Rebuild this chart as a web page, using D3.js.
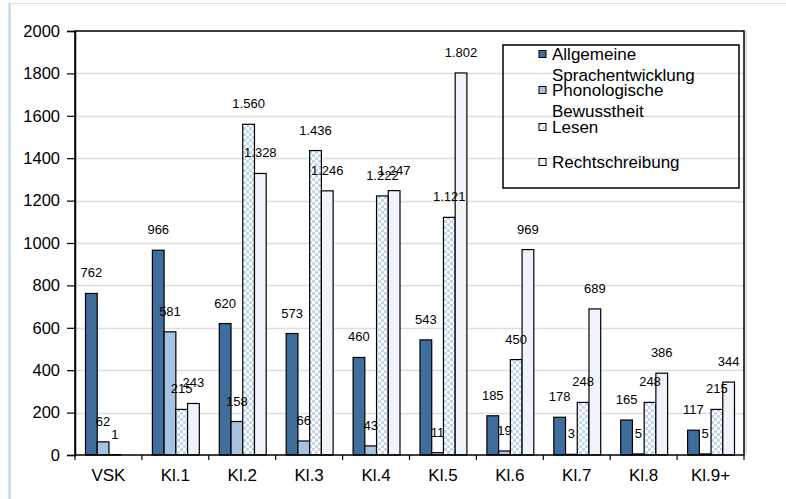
<!DOCTYPE html>
<html>
<head>
<meta charset="utf-8">
<script src="https://cdn.jsdelivr.net/npm/d3@7"></script>
<style>
  body { margin: 0; background: #fff; }
  svg { display: block; font-family: "Liberation Sans", Arial, sans-serif; }
</style>
</head>
<body>
<svg id="chart" width="786" height="499"></svg>
<script>
// data
var categories = ["VSK", "Kl.1", "Kl.2", "Kl.3", "Kl.4", "Kl.5", "Kl.6", "Kl.7", "Kl.8", "Kl.9+"];
var allgemeine = [762, 966, 620, 573, 460, 543, 185, 178, 165, 117];
var phonologische = [62, 581, 158, 66, 43, 11, 19, 3, 5, 5];
var lesen = [1, 215, 1560, 1436, 1222, 1121, 450, 248, 248, 215];
var rechtschreibung = [null, 243, 1328, 1246, 1247, 1802, 969, 689, 386, 344];
var yTicks = [0, 200, 400, 600, 800, 1000, 1200, 1400, 1600, 1800, 2000];

var seriesValues = [allgemeine, phonologische, lesen, rechtschreibung];

var margins = { top: 31, bottom: 44, left: 75, right: 42 };

var svg = d3.select("#chart");
var width = +svg.attr("width"), height = +svg.attr("height");
var plotW = width - margins.left - margins.right;
var plotH = height - margins.top - margins.bottom;

var de = d3.formatLocale({ decimal: ",", thousands: ".", grouping: [3], currency: ["", " €"] });
var fmt = de.format(",d");

// page frame lines
svg.append("line").attr("x1", 9).attr("x2", width).attr("y1", 3.5).attr("y2", 3.5)
   .attr("stroke", "#e3e3e3").attr("stroke-width", 1);
svg.append("line").attr("x1", 9.5).attr("x2", 9.5).attr("y1", 3).attr("y2", height)
   .attr("stroke", "#a9d6e8").attr("stroke-width", 2);

// checker pattern for Lesen
var defs = svg.append("defs");
var pat = defs.append("pattern").attr("id", "checker")
   .attr("width", 6).attr("height", 6).attr("patternUnits", "userSpaceOnUse");
pat.append("rect").attr("width", 6).attr("height", 6).attr("fill", "#ffffff");
pat.append("rect").attr("width", 3).attr("height", 3).attr("fill", "#c3d6ee");
pat.append("rect").attr("x", 3).attr("y", 3).attr("width", 3).attr("height", 3).attr("fill", "#c3d6ee");

var fills = ["#3f6d9c", "#a7c2e2", "url(#checker)", "#f0f4fa"];

var g = svg.append("g").attr("transform", "translate(" + margins.left + "," + margins.top + ")");

var x0 = d3.scaleBand().domain(categories).range([0, plotW]).padding(0);
var x1 = d3.scaleBand().domain(d3.range(4)).range([10.5, x0.bandwidth() - 9.5]).padding(0);
var y = d3.scaleLinear().domain([0, 2000]).range([plotH, 0]);

// gridlines
g.append("g").selectAll("line").data(yTicks.slice(1, -1)).enter().append("line")
  .attr("x1", 0).attr("x2", plotW)
  .attr("y1", function(d) { return Math.round(y(d)) + 0.5; })
  .attr("y2", function(d) { return Math.round(y(d)) + 0.5; })
  .attr("stroke", "#dedede").attr("stroke-width", 1.5);

// bars
var rows = [];
categories.forEach(function(c, i) {
  seriesValues.forEach(function(vals, s) {
    if (vals[i] !== null) rows.push({ cat: c, s: s, v: vals[i] });
  });
});

var groups = g.append("g");
groups.selectAll("rect").data(rows).enter().append("rect")
  .attr("x", function(d) { return x0(d.cat) + x1(d.s); })
  .attr("y", function(d) { return y(d.v); })
  .attr("width", x1.bandwidth())
  .attr("height", function(d) { return plotH - y(d.v); })
  .attr("fill", function(d) { return fills[d.s]; })
  .attr("stroke", "#000").attr("stroke-width", 1.2);

// value labels
groups.selectAll("text").data(rows).enter().append("text")
  .attr("x", function(d) { return x0(d.cat) + x1(d.s) + x1.bandwidth() / 2; })
  .attr("y", function(d) { return y(d.v) - 16; })
  .attr("text-anchor", "middle")
  .style("font-size", "13px").attr("fill", "#000")
  .text(function(d) { return fmt(d.v); });

// plot frame
g.append("rect").attr("x", 0).attr("y", 0).attr("width", plotW).attr("height", plotH)
  .attr("fill", "none").attr("stroke", "#000").attr("stroke-width", 1.5);
g.append("line").attr("x1", plotW + 2).attr("x2", plotW + 2).attr("y1", -1).attr("y2", plotH)
  .attr("stroke", "#bbb").attr("stroke-width", 1);

// y axis
var yAxis = g.append("g").call(d3.axisLeft(y).tickValues(yTicks).tickSize(8).tickFormat(d3.format("d")));
yAxis.select(".domain").attr("stroke-width", 1.5);
yAxis.selectAll("text").style("font-size", "16.5px").attr("x", -15).attr("fill", "#000");
yAxis.selectAll("line").attr("stroke-width", 1.2);

// x axis: labels at centres, ticks at group borders
var xAxis = g.append("g").attr("transform", "translate(0," + plotH + ")")
  .call(d3.axisBottom(x0).tickSize(0));
xAxis.select(".domain").remove();
xAxis.selectAll("text").style("font-size", "17px").attr("fill", "#000")
  .attr("y", 26).attr("dy", 0);
g.append("g").selectAll("line").data(categories.concat(["end"])).enter().append("line")
  .attr("x1", function(d) { return d === "end" ? plotW : x0(d); })
  .attr("x2", function(d) { return d === "end" ? plotW : x0(d); })
  .attr("y1", plotH).attr("y2", plotH + 5)
  .attr("stroke", "#000").attr("stroke-width", 1.2);

// legend
var legend = svg.append("g").attr("transform", "translate(503,45)");
legend.append("rect").attr("width", 236).attr("height", 143)
  .attr("fill", "none").attr("stroke", "#000").attr("stroke-width", 1.5);
var legendRows = [
  { lines: ["Allgemeine", "Sprachentwicklung"], y: 9 },
  { lines: ["Phonologische", "Bewusstheit"], y: 45 },
  { lines: ["Lesen"], y: 82 },
  { lines: ["Rechtschreibung"], y: 117 }
];
legendRows.forEach(function(r, i) {
  legend.append("rect").attr("x", 36).attr("y", r.y - 3.5).attr("width", 7).attr("height", 7)
    .attr("fill", fills[i]).attr("stroke", "#000").attr("stroke-width", 1);
  var t = legend.append("text").attr("x", 49).attr("y", r.y + 6).style("font-size", "17px").attr("fill", "#000");
  r.lines.forEach(function(l, k) {
    t.append("tspan").attr("x", 49).attr("dy", k === 0 ? 0 : 21).text(l);
  });
});
</script>
</body>
</html>
